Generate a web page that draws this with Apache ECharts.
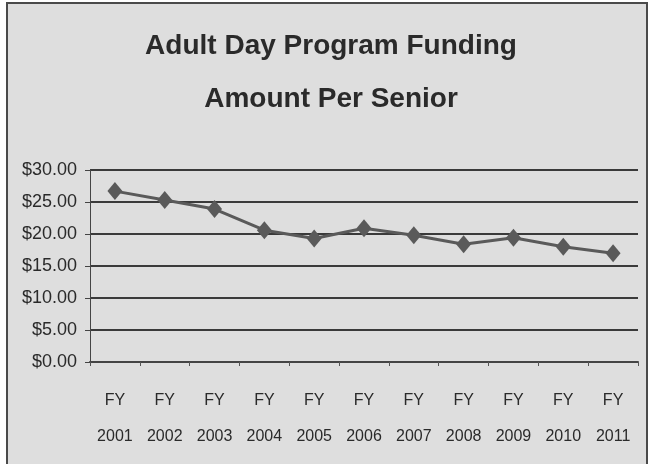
<!DOCTYPE html>
<html>
<head>
<meta charset="utf-8">
<script src="https://cdn.jsdelivr.net/npm/echarts@6/dist/echarts.min.js"></script>
<style>
html,body{margin:0;padding:0;background:#fff;}
#c{width:652px;height:464px;}
</style>
</head>
<body>
<div id="c"></div>
<script>
var titleLines = ['Adult Day Program Funding', 'Amount Per Senior'];
var categories = ['FY\n2001','FY\n2002','FY\n2003','FY\n2004','FY\n2005','FY\n2006','FY\n2007','FY\n2008','FY\n2009','FY\n2010','FY\n2011'];
var values = [26.7, 25.3, 23.9, 20.6, 19.3, 20.9, 19.8, 18.4, 19.4, 18.0, 17.0];
var yMin = 0, yMax = 30, yStep = 5;

var FONT = '"Liberation Sans Narrow", "Liberation Sans", sans-serif';
var chart = echarts.init(document.getElementById('c'));
chart.setOption({
  backgroundColor: '#ffffff',
  animation: false,
  graphic: [
    {type:'rect', shape:{x:7,y:3,width:640,height:462}, style:{fill:'#dedede', stroke:'#4a4a4a', lineWidth:2}, z:-10},
    {type:'text', x:331, y:20, style:{text: titleLines.join('\n'), fill:'#2a2a2a', font:'bold 28px ' + FONT, textAlign:'center', lineHeight:53}}
  ],
  grid: {left:90, right:14, top:170, bottom:102},
  xAxis: {
    type:'category',
    data: categories,
    boundaryGap: true,
    axisLine: {show:true, lineStyle:{color:'#444', width:2}},
    axisTick: {show:true, interval:0, length:4, lineStyle:{color:'#555'}},
    axisLabel: {interval:0, margin:21, fontSize:16, lineHeight:36, color:'#2a2a2a', fontFamily: FONT}
  },
  yAxis: {
    type:'value', min:yMin, max:yMax, interval:yStep,
    axisLine: {show:true, lineStyle:{color:'#444', width:1}},
    axisTick: {show:true, length:5, lineStyle:{color:'#444', width:1}},
    splitLine: {show:true, lineStyle:{color:'#3a3a3a', width:2}},
    axisLabel: {margin:13, fontSize:18, color:'#2a2a2a', fontFamily: FONT,
      formatter: function(v){ return '$' + v.toFixed(2); }}
  },
  series: [{
    type:'line',
    data: values,
    symbol:'diamond',
    symbolSize:[15,18],
    itemStyle:{color:'#5a5a5a'},
    lineStyle:{color:'#5a5a5a', width:3}
  }]
});
</script>
</body>
</html>
